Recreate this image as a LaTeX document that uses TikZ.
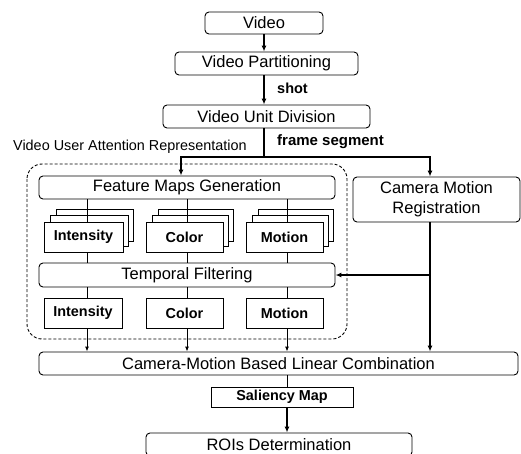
\documentclass[tikz,border=0pt]{standalone}
\usepackage{fontspec}
\setmainfont{Liberation Sans}
\usetikzlibrary{arrows.meta,backgrounds}
\begin{document}
\begin{tikzpicture}[x=1pt,y=-1pt,
  proc/.style={draw,line width=0.9pt,rounded corners=4pt,inner sep=0pt,fill=white,
    font=\fontsize{16.5}{20}\selectfont},
  feat/.style={draw,line width=0.9pt,inner sep=0pt,fill=white,
    font=\fontsize{14.4}{17}\selectfont\bfseries},
  thin/.style={line width=0.9pt},
  thick/.style={line width=1.6pt},
  arr/.style={-{Latex[length=6pt,width=5pt]}},
  tarr/.style={-{Latex[length=5pt,width=4pt]}},
  lbl/.style={inner sep=0pt,anchor=west}
]
\useasboundingbox (0,0) rectangle (521,454);
\begin{scope}
\clip (0,0) rectangle (521,454);
% main boxes
\node[proc,minimum width=118,minimum height=22] (video) at (264,23) {Video};
\node[proc,minimum width=183,minimum height=23] (vp) at (266.5,63.5) {Video Partitioning};
\node[proc,minimum width=207,minimum height=23] (vud) at (266.5,116.5) {Video Unit Division};
\node[proc,minimum width=296,minimum height=23] (fmg) at (187,187.5) {Feature Maps Generation};
\node[proc,minimum width=167,minimum height=45,align=center] (cmr) at (436.5,199.5) {Camera Motion\\Registration};
\node[proc,minimum width=296,minimum height=24] (tf) at (187,275) {Temporal Filtering};
\node[proc,minimum width=479,minimum height=23] (cmb) at (278.5,363.5) {Camera-Motion Based Linear Combination};
\node[feat,minimum width=142,minimum height=20] (sm) at (282,397) {Saliency Map};
\node[proc,minimum width=266,minimum height=23] (roi) at (279,444.5) {ROIs Determination};
% feature stacks
\node[feat,minimum width=79,minimum height=30] (fi) at (83.5,237) {Intensity};
\node[feat,minimum width=77,minimum height=30] (fc) at (184.5,237) {Color};
\node[feat,minimum width=77,minimum height=30] (fm) at (284.5,237) {Motion};
\begin{scope}[on background layer]
\foreach \f in {fi,fc,fm}{
  \draw[thin,fill=white] ([shift={(13,-12)}]\f.north west) rectangle ([shift={(10,-11)}]\f.south east);
  \draw[thin,fill=white] ([shift={(7,-6)}]\f.north west) rectangle ([shift={(5,-6)}]\f.south east);
}
\end{scope}
\node[feat,minimum width=78,minimum height=30] (bi) at (83,313) {Intensity};
\node[feat,minimum width=77,minimum height=30] (bc) at (184.5,313) {Color};
\node[feat,minimum width=77,minimum height=30] (bm) at (284.5,313) {Motion};
% column coordinates
\coordinate (c1) at (87,0);
\coordinate (c2) at (187,0);
\coordinate (c3) at (287,0);
\coordinate (c4) at (430,0);
\coordinate (split) at (264,157);
% dashed group
\draw[thin,dash pattern=on 3pt off 2pt,rounded corners=15pt] (27,164) rectangle (347,339);
% labels
\node[lbl,font=\fontsize{14.5}{17}\selectfont\bfseries] (shot) at (277,88) {shot};
\node[lbl,font=\fontsize{15}{17}\selectfont\bfseries] (fseg) at (277,142) {frame segment};
\node[lbl,font=\fontsize{14.4}{17}\selectfont] (vuar) at (13,147) {Video User Attention Representation};
% connectors
\draw[thick,arr] (video.south) -- (vp.north -| video.south);
\draw[thick,arr] (vp.south -| video.south) -- (vud.north -| video.south);
\draw[thick] (vud.south -| split) -- (split);
\draw[thick,arr] (split -| c4) -| (fmg.north -| 181,0);
\draw[thick,arr] (split) -| (cmr.north -| c4);
\foreach \c/\f/\b in {c1/fi/bi,c2/fc/bc,c3/fm/bm}{
  \draw[thin] (fmg.south -| \c) -- (\f.north -| \c);
  \draw[thin] (\f.south -| \c) -- (tf.north -| \c);
  \draw[thin] (tf.south -| \c) -- (\b.north -| \c);
  \draw[thin,tarr] (\b.south -| \c) -- (cmb.north -| \c);
}
\draw[thick,arr] (cmr.south -| c4) -- (cmb.north -| c4);
\draw[thick,arr] (tf.east -| c4) -- (tf.east);
\draw[thin] (cmb.south -| c3) -- (sm.north -| c3);
\draw[thick,arr] (sm.south -| c3) -- (roi.north -| c3);
\end{scope}
\end{tikzpicture}
\end{document}
